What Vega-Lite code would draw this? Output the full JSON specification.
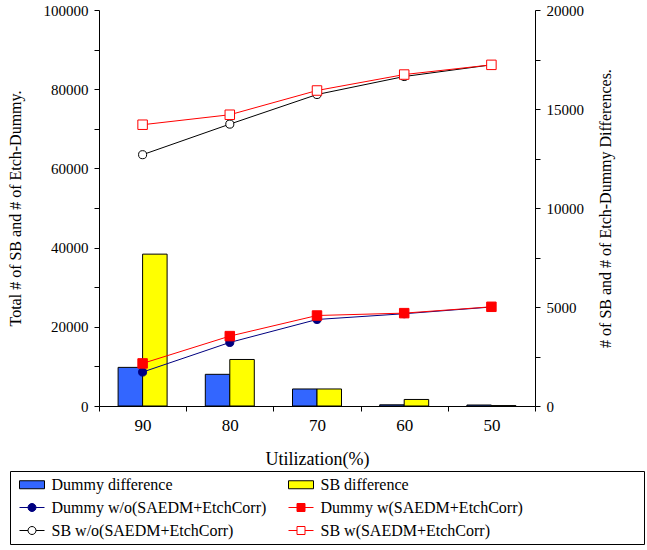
{
  "$schema": "https://vega.github.io/schema/vega-lite/v6.json",
  "width": 436,
  "height": 396,
  "autosize": {"type": "none"},
  "padding": {"left": 99, "top": 10, "right": 112, "bottom": 144},
  "background": "white",
  "config": {
    "font": "Liberation Serif",
    "view": {"stroke": null},
    "axis": {"domainColor": "black", "tickColor": "black", "labelColor": "black", "titleColor": "black", "titleFontWeight": "normal", "grid": false, "tickSize": 5, "labelFont": "Liberation Serif", "titleFont": "Liberation Serif"}
  },
  "data": {"values": [
    {"util": "90", "series": "Dummy difference", "kind": "bar", "value": 1950},
    {"util": "80", "series": "Dummy difference", "kind": "bar", "value": 1600},
    {"util": "70", "series": "Dummy difference", "kind": "bar", "value": 860},
    {"util": "60", "series": "Dummy difference", "kind": "bar", "value": 60},
    {"util": "50", "series": "Dummy difference", "kind": "bar", "value": 50},
    {"util": "90", "series": "SB difference", "kind": "bar", "value": 7670},
    {"util": "80", "series": "SB difference", "kind": "bar", "value": 2350},
    {"util": "70", "series": "SB difference", "kind": "bar", "value": 860},
    {"util": "60", "series": "SB difference", "kind": "bar", "value": 330},
    {"util": "50", "series": "SB difference", "kind": "bar", "value": 20},
    {"util": "90", "series": "Dummy w/o(SAEDM+EtchCorr)", "kind": "circle", "value": 8570},
    {"util": "80", "series": "Dummy w/o(SAEDM+EtchCorr)", "kind": "circle", "value": 16050},
    {"util": "70", "series": "Dummy w/o(SAEDM+EtchCorr)", "kind": "circle", "value": 21850},
    {"util": "60", "series": "Dummy w/o(SAEDM+EtchCorr)", "kind": "circle", "value": 23300},
    {"util": "50", "series": "Dummy w/o(SAEDM+EtchCorr)", "kind": "circle", "value": 25000},
    {"util": "90", "series": "SB w/o(SAEDM+EtchCorr)", "kind": "circle", "value": 63460},
    {"util": "80", "series": "SB w/o(SAEDM+EtchCorr)", "kind": "circle", "value": 71180},
    {"util": "70", "series": "SB w/o(SAEDM+EtchCorr)", "kind": "circle", "value": 78660},
    {"util": "60", "series": "SB w/o(SAEDM+EtchCorr)", "kind": "circle", "value": 83200},
    {"util": "50", "series": "SB w/o(SAEDM+EtchCorr)", "kind": "circle", "value": 86150},
    {"util": "90", "series": "Dummy w(SAEDM+EtchCorr)", "kind": "square", "value": 10750},
    {"util": "80", "series": "Dummy w(SAEDM+EtchCorr)", "kind": "square", "value": 17650},
    {"util": "70", "series": "Dummy w(SAEDM+EtchCorr)", "kind": "square", "value": 22850},
    {"util": "60", "series": "Dummy w(SAEDM+EtchCorr)", "kind": "square", "value": 23450},
    {"util": "50", "series": "Dummy w(SAEDM+EtchCorr)", "kind": "square", "value": 25050},
    {"util": "90", "series": "SB w(SAEDM+EtchCorr)", "kind": "square", "value": 71030},
    {"util": "80", "series": "SB w(SAEDM+EtchCorr)", "kind": "square", "value": 73550},
    {"util": "70", "series": "SB w(SAEDM+EtchCorr)", "kind": "square", "value": 79670},
    {"util": "60", "series": "SB w(SAEDM+EtchCorr)", "kind": "square", "value": 83700},
    {"util": "50", "series": "SB w(SAEDM+EtchCorr)", "kind": "square", "value": 86150}
  ]},
  "encoding": {
    "x": {
      "field": "util", "type": "nominal", "sort": ["90", "80", "70", "60", "50"],
      "scale": {"paddingInner": 0, "paddingOuter": 0},
      "axis": {"title": "Utilization(%)", "labelAngle": 0, "tickBand": "extent", "labelFontSize": 17, "labelPadding": 6, "titleFontSize": 18, "titlePadding": 17}
    },
    "fill": {
      "field": "series", "type": "nominal",
      "scale": {
        "domain": ["Dummy difference", "SB difference", "Dummy w/o(SAEDM+EtchCorr)", "Dummy w(SAEDM+EtchCorr)", "SB w/o(SAEDM+EtchCorr)", "SB w(SAEDM+EtchCorr)"],
        "range": ["#3366ff", "#ffff00", "#000080", "#ff0000", "#ffffff", "#ffffff"]
      },
      "legend": {"title": "\u00a0"}
    },
    "stroke": {
      "field": "series", "type": "nominal",
      "scale": {
        "domain": ["Dummy difference", "SB difference", "Dummy w/o(SAEDM+EtchCorr)", "Dummy w(SAEDM+EtchCorr)", "SB w/o(SAEDM+EtchCorr)", "SB w(SAEDM+EtchCorr)"],
        "range": ["#000000", "#000000", "#000080", "#ff0000", "#000000", "#ff0000"]
      },
      "legend": {"title": "\u00a0"}
    }
  },
  "layer": [
    {
      "transform": [{"filter": "datum.kind == 'bar'"}],
      "mark": {"type": "bar", "strokeWidth": 1, "opacity": 1},
      "encoding": {
        "xOffset": {"field": "series", "type": "nominal", "scale": {"domain": ["Dummy difference", "SB difference"], "paddingOuter": 0.78, "paddingInner": 0}},
        "y": {
          "field": "value", "type": "quantitative",
          "scale": {"domain": [0, 20000], "nice": false},
          "axis": {"orient": "right", "title": "# of SB and # of Etch-Dummy Differences.", "titleAngle": -90, "titleFontSize": 16, "titlePadding": 30, "labelFontSize": 15, "labelPadding": 6, "format": "d",
            "values": [0, 2500, 5000, 7500, 10000, 12500, 15000, 17500, 20000],
            "labelExpr": "datum.value % 5000 == 0 ? datum.label : ''"}
        }
      }
    },
    {
      "transform": [{"filter": "datum.kind != 'bar'"}],
      "encoding": {
        "y": {
          "field": "value", "type": "quantitative",
          "scale": {"domain": [0, 100000], "nice": false},
          "axis": {"orient": "left", "title": "Total # of SB and # of Etch-Dummy.", "titleFontSize": 16, "titlePadding": 20, "labelFontSize": 15, "labelPadding": 6, "format": "d",
            "values": [0, 10000, 20000, 30000, 40000, 50000, 60000, 70000, 80000, 90000, 100000],
            "labelExpr": "datum.value % 20000 == 0 ? datum.label : ''"}
        }
      },
      "layer": [
        {
          "mark": {"type": "line", "strokeWidth": 1},
          "encoding": {"fill": {"value": null}, "detail": {"field": "series"}}
        },
        {
          "transform": [{"filter": "datum.kind == 'circle'"}],
          "mark": {"type": "point", "shape": "circle", "size": 65, "opacity": 1, "strokeWidth": 1}
        },
        {
          "transform": [{"filter": "datum.kind == 'square'"}],
          "mark": {"type": "point", "shape": "square", "size": 90, "opacity": 1, "strokeWidth": 1}
        },
        {
          "transform": [{"filter": "datum.kind == 'none'"}],
          "mark": {"type": "point", "opacity": 1},
          "encoding": {
            "shape": {
              "field": "series", "type": "nominal",
              "scale": {
                "domain": ["Dummy difference", "SB difference", "Dummy w/o(SAEDM+EtchCorr)", "Dummy w(SAEDM+EtchCorr)", "SB w/o(SAEDM+EtchCorr)", "SB w(SAEDM+EtchCorr)"],
                "range": [
                  "M-1.5625,-0.5H1.5625V0.5H-1.5625Z",
                  "M-1.5625,-0.5H1.5625V0.5H-1.5625Z",
                  "M-1.5625,0H-0.5M0.5,0H1.5625M0.5,0A0.5,0.5,0,1,1,-0.5,0A0.5,0.5,0,1,1,0.5,0Z",
                  "M-1.5625,0H-0.5M0.5,0H1.5625M-0.5,-0.5H0.5V0.5H-0.5Z",
                  "M-1.5625,0H-0.5M0.5,0H1.5625M0.5,0A0.5,0.5,0,1,1,-0.5,0A0.5,0.5,0,1,1,0.5,0Z",
                  "M-1.5625,0H-0.5M0.5,0H1.5625M-0.5,-0.5H0.5V0.5H-0.5Z"
                ]
              },
              "legend": {
                "orient": "none", "legendX": -89, "legendY": 461, "direction": "horizontal",
                "title": "\u00a0", "titleOrient": "right", "titlePadding": 116, "titleFontSize": 16,
                "columns": 2, "columnPadding": 17, "rowPadding": 6,
                "padding": 5, "strokeColor": "black", "fillColor": "white",
                "symbolSize": 256, "symbolOffset": 8.5, "symbolStrokeWidth": 1, "symbolOpacity": 1,
                "labelFontSize": 16, "labelFont": "Liberation Serif", "labelColor": "black", "labelOffset": 11, "labelLimit": 400
              }
            }
          }
        }
      ]
    }
  ],
  "resolve": {"scale": {"y": "independent"}}
}
